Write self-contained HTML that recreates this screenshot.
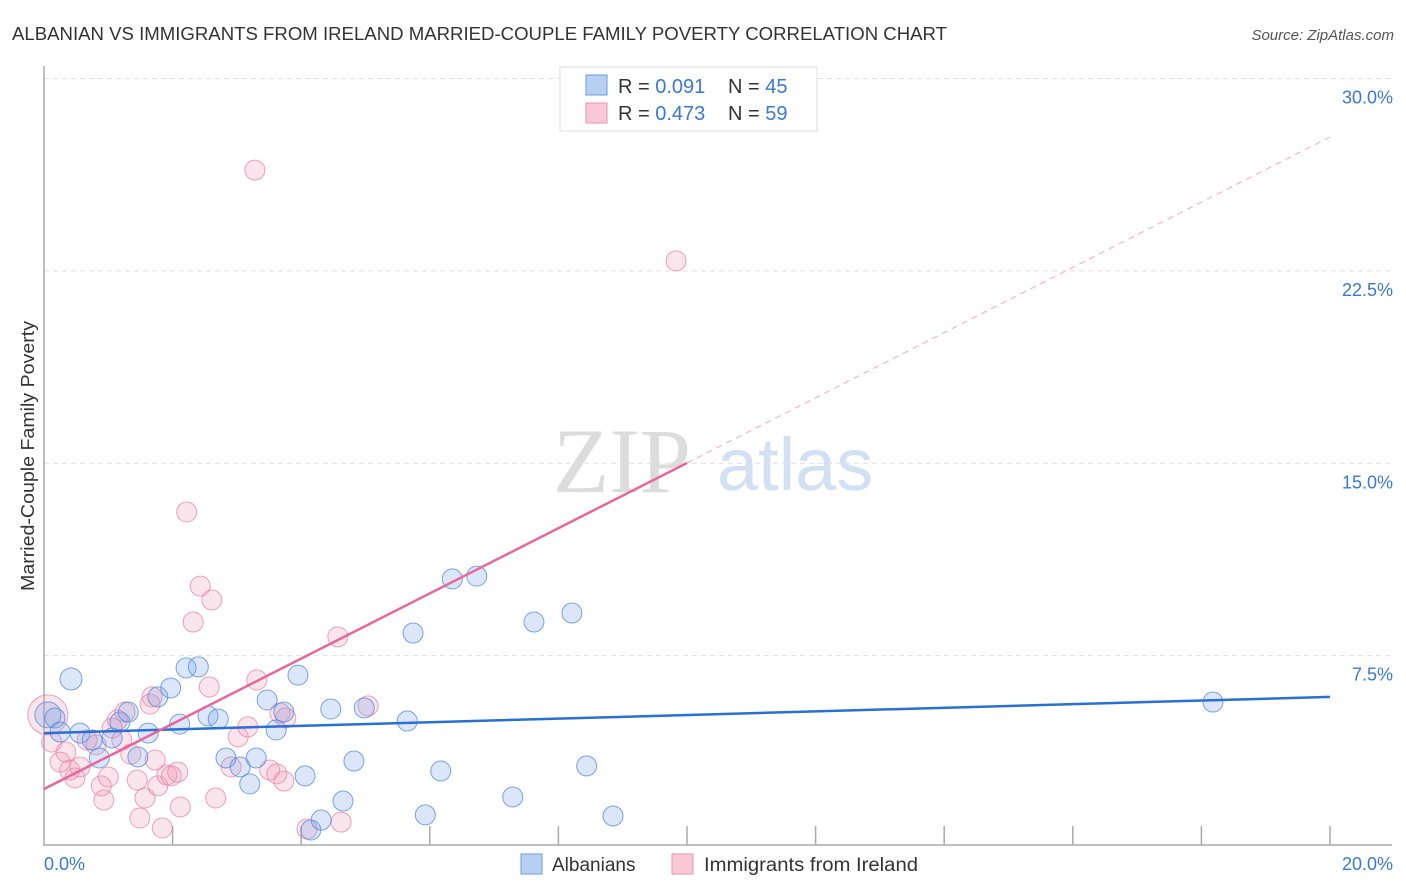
<!DOCTYPE html>
<html><head><meta charset="utf-8"><style>
body{margin:0;background:#fff;font-family:"Liberation Sans",sans-serif;}
svg{display:block}
</style></head><body>
<svg id="chart" width="1406" height="892">
<text x="12" y="40" font-size="18" fill="#333" textLength="935" lengthAdjust="spacingAndGlyphs">ALBANIAN VS IMMIGRANTS FROM IRELAND MARRIED-COUPLE FAMILY POVERTY CORRELATION CHART</text>
<text x="1394" y="40" font-size="15" fill="#555" font-style="italic" text-anchor="end">Source: ZipAtlas.com</text>
<text transform="translate(34,456) rotate(-90)" font-size="18" fill="#333" text-anchor="middle" textLength="270" lengthAdjust="spacingAndGlyphs">Married-Couple Family Poverty</text>
<g>
<text x="553" y="492" font-size="92" fill="#dcdcdc" font-family="Liberation Serif,serif">ZIP</text>
<text x="717" y="490" font-size="74" fill="#d2e0f4">atlas</text>
</g>
<g id="grid"></g>
<g id="axes"></g>
<g id="marks"></g>
<g id="trends"></g>
<g>
<rect x="560" y="67" width="257" height="64" fill="#fff" stroke="#ddd"/>
<rect x="586" y="75" width="21" height="20" fill="#b8d1f3" stroke="#6a9be0"/>
<rect x="586" y="103" width="21" height="20" fill="#f8c8d6" stroke="#ea92b0"/>
<text x="618" y="93" font-size="20" fill="#333">R = <tspan fill="#3a78d8">0.091</tspan></text>
<text x="728" y="93" font-size="20" fill="#333">N = <tspan fill="#3a78d8">45</tspan></text>
<text x="618" y="120" font-size="20" fill="#333">R = <tspan fill="#3a78d8">0.473</tspan></text>
<text x="728" y="120" font-size="20" fill="#333">N = <tspan fill="#3a78d8">59</tspan></text>
</g>
<g>
<rect x="521" y="854" width="21" height="20" fill="#b8d1f3" stroke="#6a9be0"/>
<text x="552" y="871" font-size="19" fill="#333">Albanians</text>
<rect x="672" y="854" width="21" height="20" fill="#f8c8d6" stroke="#ea92b0"/>
<text x="704" y="871" font-size="19" fill="#333" textLength="214" lengthAdjust="spacingAndGlyphs">Immigrants from Ireland</text>
</g>
</svg>
<script>
const blueX=[0.06,0.17,0.25,0.42,0.56,0.75,0.86,1.06,1.18,1.31,1.46,1.62,1.77,1.97,2.11,2.21,2.40,2.55,2.71,2.83,3.05,3.20,3.30,3.47,3.61,3.73,3.95,4.06,4.15,4.31,4.46,4.65,4.82,4.98,5.65,5.74,5.93,6.17,6.35,6.73,7.29,7.62,8.21,8.44,8.85,18.18];
const blueY=[5.19,5.07,4.52,6.59,4.48,4.21,3.51,4.29,4.91,5.30,3.55,4.48,5.89,6.24,4.83,7.02,7.06,5.15,5.03,3.51,3.16,2.50,3.51,5.77,4.60,5.30,6.74,2.81,0.70,1.09,5.42,1.83,3.39,5.46,4.95,8.38,1.29,3.00,10.49,10.60,1.99,8.81,9.16,3.20,1.25,5.69];
const pinkX=[0.06,0.12,0.25,0.34,0.40,0.48,0.56,0.67,0.81,0.89,0.93,1.00,1.06,1.14,1.21,1.26,1.35,1.45,1.49,1.57,1.65,1.68,1.73,1.77,1.84,1.91,1.98,2.08,2.12,2.22,2.32,2.43,2.61,2.57,2.67,2.91,3.02,3.17,3.28,3.31,3.51,3.62,3.67,3.73,3.76,4.09,4.57,4.62,5.04,9.83];
const pinkY=[5.19,4.13,3.35,3.74,3.04,2.73,3.16,4.21,4.02,2.42,1.87,2.77,4.68,4.99,4.21,5.30,3.66,2.65,1.17,1.95,5.61,5.89,3.43,2.42,0.78,2.85,2.81,2.96,1.60,13.10,8.81,10.21,9.67,6.28,1.95,3.16,4.33,4.72,26.43,6.55,3.04,2.89,5.26,2.61,5.07,0.74,8.23,1.01,5.54,22.89];
const blueTrend=[4.48,5.89];  // y at x=0 and x=20
const pinkTrend=[2.30,27.72];
const pinkSolidEnd=10;
const yTicks=[7.5,15,22.5,30];
const yTickLabels=["7.5%","15.0%","22.5%","30.0%"];
const xTicks=[2,4,6,8,10,12,14,16,18,20];

const NS="http://www.w3.org/2000/svg";
const sx=v=>44+v*64.3, sy=v=>848-v*25.65;
function mk(tag,attrs,parent){const e=document.createElementNS(NS,tag);for(const k in attrs)e.setAttribute(k,attrs[k]);parent.appendChild(e);return e;}
const grid=document.getElementById('grid'),axes=document.getElementById('axes'),marks=document.getElementById('marks'),trends=document.getElementById('trends');
yTicks.forEach((t,i)=>{
  const l=mk('line',{x1:44,x2:1392,y1:sy(t),y2:sy(t),stroke:'#e0e0e0','stroke-dasharray':'5,4'},grid);
  
  
  const tx=mk('text',{x:1393,y:sy(t)+25,'font-size':18,fill:'#3a78d8','text-anchor':'end'},grid);
  tx.textContent=yTickLabels[i];
  
  
});
const yl=mk('line',{x1:44,x2:44,y1:66,y2:846,stroke:'#aaa','stroke-width':1.5},axes);


const xl=mk('line',{x1:44,x2:1392,y1:845,y2:845,stroke:'#aaa','stroke-width':1.5},axes);


xTicks.forEach(t=>{
  const l=mk('line',{x1:sx(t),x2:sx(t),y1:826,y2:845,stroke:'#aaa','stroke-width':1.5},axes);
  
  
});
const x0=mk('text',{x:44,y:870,'font-size':18,fill:'#3a78d8'},axes);x0.textContent='0.0%';


const x1=mk('text',{x:1393,y:870,'font-size':18,fill:'#3a78d8','text-anchor':'end'},axes);x1.textContent='20.0%';


function pts(X,Y,fill,stroke,name){
  X.forEach((x,i)=>{
    const r=(i===0)?(name==='ireland-point'?20:13):(name==='albanian-point'&&i===3?11:10);
    const c=mk('circle',{cx:sx(x),cy:sy(Y[i]),r:r,fill:fill,stroke:stroke,'stroke-width':1},marks);
    
    
  });
}
pts(pinkX,pinkY,'rgba(240,150,180,0.25)','rgba(232,130,165,0.75)','ireland-point');
pts(blueX,blueY,'rgba(110,160,230,0.25)','rgba(80,135,220,0.75)','albanian-point');
const bt=mk('line',{x1:sx(0),y1:sy(blueTrend[0]),x2:sx(20),y2:sy(blueTrend[1]),stroke:'#2a6fd6','stroke-width':2.5},trends);


const pAt=x=>pinkTrend[0]+(pinkTrend[1]-pinkTrend[0])*x/20;
const pt=mk('line',{x1:sx(0),y1:sy(pAt(0)),x2:sx(pinkSolidEnd),y2:sy(pAt(pinkSolidEnd)),stroke:'#e8679a','stroke-width':2.5},trends);


const pd=mk('line',{x1:sx(pinkSolidEnd),y1:sy(pAt(pinkSolidEnd)),x2:sx(20),y2:sy(pAt(20)),stroke:'#f0b5ca','stroke-width':1.2,'stroke-dasharray':'6,5'},trends);


</script>
</body></html>
